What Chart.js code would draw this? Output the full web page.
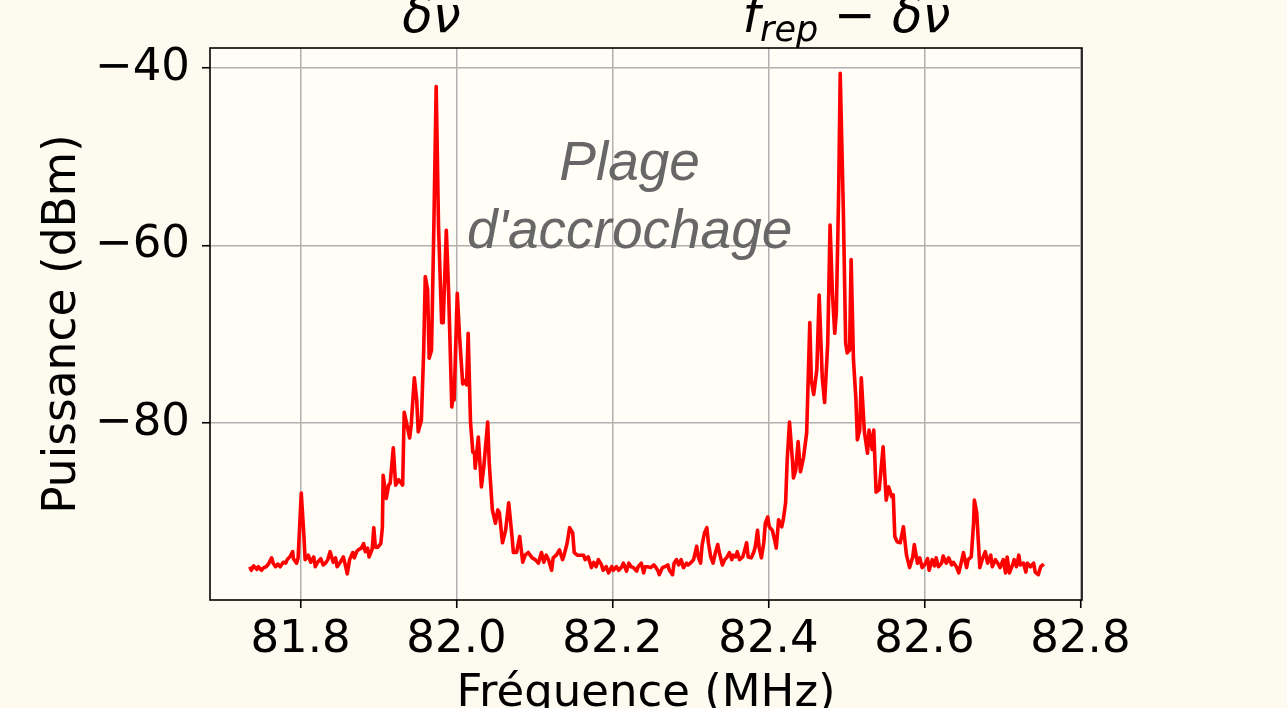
<!DOCTYPE html>
<html lang="fr">
<head>
<meta charset="utf-8">
<title>Puissance en fonction de la fréquence</title>
<script src="https://cdn.jsdelivr.net/npm/chart.js@4.4.1/dist/chart.umd.min.js"></script>
<style>
  html, body { margin: 0; padding: 0; background: #fdfbef; }
  #spectrum { display: block; }
</style>
</head>
<body>
<canvas id="spectrum" width="1287" height="708"></canvas>
<script>
// Spectre mesuré : fréquence (MHz) et puissance (dBm)
const freqMHz = [
  81.735, 81.737, 81.740, 81.744, 81.746, 81.750, 81.753, 81.756, 81.759, 81.763,
  81.765, 81.768, 81.771, 81.774, 81.778, 81.781, 81.783, 81.787, 81.790, 81.791,
  81.795, 81.797, 81.801, 81.804, 81.806, 81.810, 81.813, 81.817, 81.819, 81.822,
  81.826, 81.829, 81.832, 81.835, 81.838, 81.842, 81.845, 81.847, 81.851, 81.855,
  81.858, 81.860, 81.863, 81.867, 81.869, 81.872, 81.874, 81.878, 81.881, 81.883,
  81.886, 81.888, 81.892, 81.894, 81.896, 81.899, 81.903, 81.905, 81.906, 81.910,
  81.913, 81.915, 81.919, 81.922, 81.926, 81.931, 81.933, 81.936, 81.940, 81.942,
  81.946, 81.949, 81.951, 81.955, 81.958, 81.960, 81.963, 81.965, 81.968, 81.971,
  81.974, 81.977, 81.981, 81.983, 81.987, 81.990, 81.994, 81.996, 81.997, 82.001,
  82.004, 82.008, 82.010, 82.013, 82.015, 82.018, 82.021, 82.023, 82.024, 82.028,
  82.032, 82.035, 82.040, 82.042, 82.046, 82.050, 82.053, 82.055, 82.059, 82.063,
  82.067, 82.071, 82.073, 82.077, 82.081, 82.085, 82.088, 82.092, 82.097, 82.101,
  82.105, 82.109, 82.112, 82.115, 82.118, 82.122, 82.124, 82.128, 82.132, 82.136,
  82.138, 82.142, 82.145, 82.149, 82.151, 82.155, 82.159, 82.163, 82.165, 82.169,
  82.173, 82.176, 82.179, 82.182, 82.186, 82.188, 82.192, 82.195, 82.199, 82.201,
  82.205, 82.208, 82.212, 82.214, 82.218, 82.221, 82.224, 82.227, 82.231, 82.233,
  82.237, 82.240, 82.242, 82.245, 82.249, 82.253, 82.255, 82.258, 82.260, 82.264,
  82.267, 82.271, 82.273, 82.277, 82.279, 82.282, 82.285, 82.288, 82.291, 82.295,
  82.297, 82.301, 82.304, 82.308, 82.310, 82.313, 82.315, 82.318, 82.321, 82.323,
  82.326, 82.329, 82.332, 82.335, 82.337, 82.341, 82.344, 82.347, 82.350, 82.353,
  82.355, 82.358, 82.360, 82.363, 82.367, 82.369, 82.372, 82.374, 82.378, 82.381,
  82.383, 82.386, 82.388, 82.391, 82.394, 82.396, 82.399, 82.401, 82.405, 82.408,
  82.410, 82.413, 82.417, 82.419, 82.422, 82.424, 82.427, 82.431, 82.432, 82.435,
  82.438, 82.441, 82.445, 82.449, 82.453, 82.455, 82.458, 82.462, 82.465, 82.469,
  82.472, 82.476, 82.479, 82.482, 82.485, 82.487, 82.490, 82.492, 82.496, 82.499,
  82.501, 82.504, 82.506, 82.509, 82.512, 82.514, 82.517, 82.519, 82.523, 82.527,
  82.529, 82.533, 82.535, 82.538, 82.542, 82.547, 82.551, 82.554, 82.558, 82.560,
  82.562, 82.565, 82.569, 82.573, 82.577, 82.581, 82.585, 82.587, 82.591, 82.594,
  82.597, 82.600, 82.604, 82.606, 82.610, 82.613, 82.615, 82.618, 82.622, 82.624,
  82.628, 82.631, 82.635, 82.637, 82.641, 82.644, 82.647, 82.650, 82.654, 82.656,
  82.660, 82.663, 82.664, 82.667, 82.669, 82.671, 82.674, 82.678, 82.681, 82.685,
  82.687, 82.691, 82.694, 82.697, 82.701, 82.704, 82.706, 82.709, 82.713, 82.715,
  82.718, 82.721, 82.723, 82.727, 82.730, 82.732, 82.736, 82.740, 82.742, 82.746,
  82.749, 82.753
];
const powerDbm = [
  -96.2, -96.6, -96.1, -96.5, -96.2, -96.6, -96.3, -96.2, -95.9, -95.2,
  -95.8, -96.2, -95.9, -96.2, -95.7, -95.8, -95.4, -95.0, -94.5, -95.3,
  -95.8, -95.2, -87.9, -92.1, -95.4, -94.9, -95.7, -95.1, -96.2, -95.7,
  -95.3, -96.0, -95.8, -95.4, -94.5, -95.7, -95.2, -96.2, -95.7, -95.1,
  -96.2, -97.0, -95.4, -94.6, -95.2, -94.5, -94.3, -94.1, -93.6, -94.5,
  -94.1, -95.1, -94.2, -91.8, -94.0, -94.0, -93.6, -91.8, -85.9, -88.5,
  -87.0, -86.8, -82.8, -87.0, -86.4, -87.0, -78.8, -80.0, -81.7, -80.2,
  -74.9, -77.4, -81.0, -79.7, -71.8, -63.5, -65.0, -72.7, -71.8, -57.9,
  -42.1, -57.9, -68.7, -68.7, -58.3, -65.4, -78.2, -76.6, -77.4, -65.4,
  -70.3, -75.6, -75.2, -75.7, -69.9, -79.9, -83.3, -83.3, -85.1, -81.6,
  -87.2, -85.0, -79.9, -84.5, -89.8, -91.3, -89.8, -90.1, -93.5, -92.1,
  -89.0, -92.6, -94.6, -94.6, -92.8, -95.7, -94.9, -94.6, -95.2, -95.4,
  -95.8, -94.6, -95.7, -94.9, -95.4, -96.6, -95.2, -94.9, -94.3, -95.4,
  -94.9, -93.5, -91.8, -92.4, -94.6, -94.9, -94.9, -94.9, -95.4, -95.1,
  -96.3, -95.7, -96.2, -95.4, -96.0, -96.6, -96.2, -96.9, -96.2, -96.6,
  -96.2, -96.6, -96.2, -95.8, -96.7, -95.8, -96.2, -96.3, -96.7, -96.2,
  -95.8, -96.9, -96.2, -96.2, -96.3, -96.0, -96.2, -96.6, -97.1, -96.3,
  -96.2, -96.0, -96.6, -97.1, -95.8, -95.4, -96.0, -95.4, -96.3, -95.8,
  -96.0, -95.7, -95.4, -93.9, -95.1, -95.8, -93.7, -92.4, -91.8, -93.5,
  -95.1, -95.8, -94.6, -93.7, -94.6, -96.0, -95.4, -95.1, -94.6, -95.4,
  -94.9, -95.1, -94.5, -95.4, -95.1, -94.5, -93.5, -95.1, -95.2, -94.6,
  -94.0, -92.1, -94.0, -95.2, -93.5, -91.3, -90.6, -91.7, -92.1, -93.2,
  -94.1, -90.9, -91.7, -90.9, -89.0, -84.2, -79.9, -84.5, -86.2, -85.3,
  -82.1, -85.5, -83.9, -81.1, -68.7, -75.2, -76.8, -74.0, -65.6, -74.9,
  -77.7, -71.0, -57.7, -65.4, -69.9, -67.6, -54.1, -40.6, -56.0, -71.0,
  -72.1, -71.8, -61.6, -72.9, -77.1, -81.9, -80.8, -74.9, -81.0, -83.4,
  -80.8, -83.0, -80.8, -87.8, -87.5, -82.7, -88.7, -87.2, -88.3, -88.1,
  -92.8, -93.4, -93.5, -91.7, -94.9, -96.3, -95.1, -93.7, -95.8, -95.2,
  -96.3, -96.0, -95.3, -96.6, -95.4, -96.1, -95.2, -96.2, -95.8, -95.0,
  -95.8, -95.2, -96.0, -95.7, -96.2, -96.9, -95.8, -94.6, -96.3, -95.4,
  -95.1, -91.3, -88.7, -90.1, -93.2, -96.3, -95.4, -94.5, -95.8, -94.9,
  -96.2, -95.4, -95.8, -96.3, -95.4, -96.9, -95.1, -96.9, -96.0, -95.4,
  -96.2, -94.9, -96.0, -95.8, -96.8, -95.8, -96.2, -95.8, -96.8, -97.1,
  -96.2, -95.9
];

const xTicks = [81.8, 82.0, 82.2, 82.4, 82.6, 82.8];
const xTickLabels = ["81.8", "82.0", "82.2", "82.4", "82.6", "82.8"];
const yTicks = [-80, -60, -40];
const yTickLabels = ["\u221280", "\u221260", "\u221240"];

const FIG_BG = "#fdfbef";
const AXES_BG = "#fffdf6";
const MAIN_FONT = "'DejaVu Sans', sans-serif";

// fond du cadre, bordure noire et textes (δν, f_rep − δν, plage d'accrochage)
const decorPlugin = {
  id: "decor",
  beforeDraw(chart) {
    const { ctx, chartArea: a } = chart;
    ctx.save();
    ctx.fillStyle = FIG_BG;
    ctx.fillRect(0, 0, chart.width, chart.height);
    ctx.fillStyle = AXES_BG;
    ctx.fillRect(a.left, a.top, a.right - a.left, a.bottom - a.top);
    ctx.restore();
  },
  afterDraw(chart) {
    const { ctx, chartArea: a, scales } = chart;
    ctx.save();
    ctx.strokeStyle = "#000";
    ctx.lineWidth = 1.6;
    ctx.strokeRect(a.left, a.top, a.right - a.left, a.bottom - a.top);

    // étiquettes au-dessus des deux pics
    drawParts(ctx, scales.x.getPixelForValue(81.968), 32, [
      { t: "δν", font: "italic 50px " + MAIN_FONT },
    ]);
    drawParts(ctx, scales.x.getPixelForValue(82.5), 32, [
      { t: "f", font: "italic 50px " + MAIN_FONT },
      { t: "rep", font: "italic 35px " + MAIN_FONT, dy: 9 },
      { t: " \u2212 ", font: "50px " + MAIN_FONT },
      { t: "δν", font: "italic 50px " + MAIN_FONT },
    ]);

    // annotation au centre
    const cx = scales.x.getPixelForValue(82.222);
    ctx.fillStyle = "#676767";
    ctx.font = "italic 55px 'Liberation Sans', Arial, sans-serif";
    ctx.textAlign = "center";
    ctx.textBaseline = "alphabetic";
    ctx.fillText("Plage", cx, 180);
    ctx.fillText("d'accrochage", cx, 248);
    ctx.restore();
  },
};

function drawParts(ctx, cx, baseline, parts) {
  ctx.fillStyle = "#000";
  ctx.textAlign = "left";
  ctx.textBaseline = "alphabetic";
  let total = 0;
  parts.forEach((p) => {
    ctx.font = p.font;
    p.w = ctx.measureText(p.t).width;
    total += p.w;
  });
  let x = cx - total / 2;
  parts.forEach((p) => {
    ctx.font = p.font;
    ctx.fillText(p.t, x, baseline + (p.dy || 0));
    x += p.w;
  });
}

const ctx = document.getElementById("spectrum").getContext("2d");
new Chart(ctx, {
  type: "scatter",
  data: {
    datasets: [
      {
        data: freqMHz.map((f, i) => ({ x: f, y: powerDbm[i] })),
        showLine: true,
        borderColor: "#ff0000",
        borderWidth: 3.6,
        borderJoinStyle: "round",
        pointRadius: 0,
        tension: 0,
      },
    ],
  },
  options: {
    responsive: false,
    devicePixelRatio: 1,
    animation: false,
    layout: { padding: { top: 48, right: 205, left: 0, bottom: 0 } },
    plugins: {
      legend: { display: false },
      tooltip: { enabled: false },
    },
    scales: {
      x: {
        type: "linear",
        min: 81.684,
        max: 82.802,
        afterBuildTicks: (s) => {
          s.ticks = xTicks.map((v) => ({ value: v }));
        },
        afterFit: (s) => {
          s.height = 108;
        },
        ticks: {
          callback: (v, i) => xTickLabels[i],
          font: { family: MAIN_FONT, size: 45 },
          color: "#000",
          padding: 5,
          maxRotation: 0,
          autoSkip: false,
        },
        grid: {
          color: "#b0b0b0",
          lineWidth: 1.5,
          tickColor: "#000",
          tickLength: 8,
          tickWidth: 1.6,
        },
        border: { display: false },
        title: {
          display: true,
          text: "Fréquence (MHz)",
          color: "#000",
          font: { family: MAIN_FONT, size: 45, lineHeight: 0.6 },
          padding: { top: 0, bottom: 0 },
        },
      },
      y: {
        type: "linear",
        min: -99.95,
        max: -37.75,
        afterBuildTicks: (s) => {
          s.ticks = yTicks.map((v) => ({ value: v }));
        },
        afterFit: (s) => {
          s.width = 210;
        },
        ticks: {
          callback: (v, i) => yTickLabels[i],
          font: { family: MAIN_FONT, size: 45 },
          color: "#000",
          padding: 12,
          autoSkip: false,
        },
        grid: {
          color: "#b0b0b0",
          lineWidth: 1.5,
          tickColor: "#000",
          tickLength: 8,
          tickWidth: 1.6,
        },
        border: { display: false },
        title: {
          display: true,
          text: "Puissance (dBm)",
          color: "#000",
          font: { family: MAIN_FONT, size: 45.5, lineHeight: 0.8 },
          padding: { top: 45, bottom: 0 },
        },
      },
    },
  },
  plugins: [decorPlugin],
});
</script>
</body>
</html>
